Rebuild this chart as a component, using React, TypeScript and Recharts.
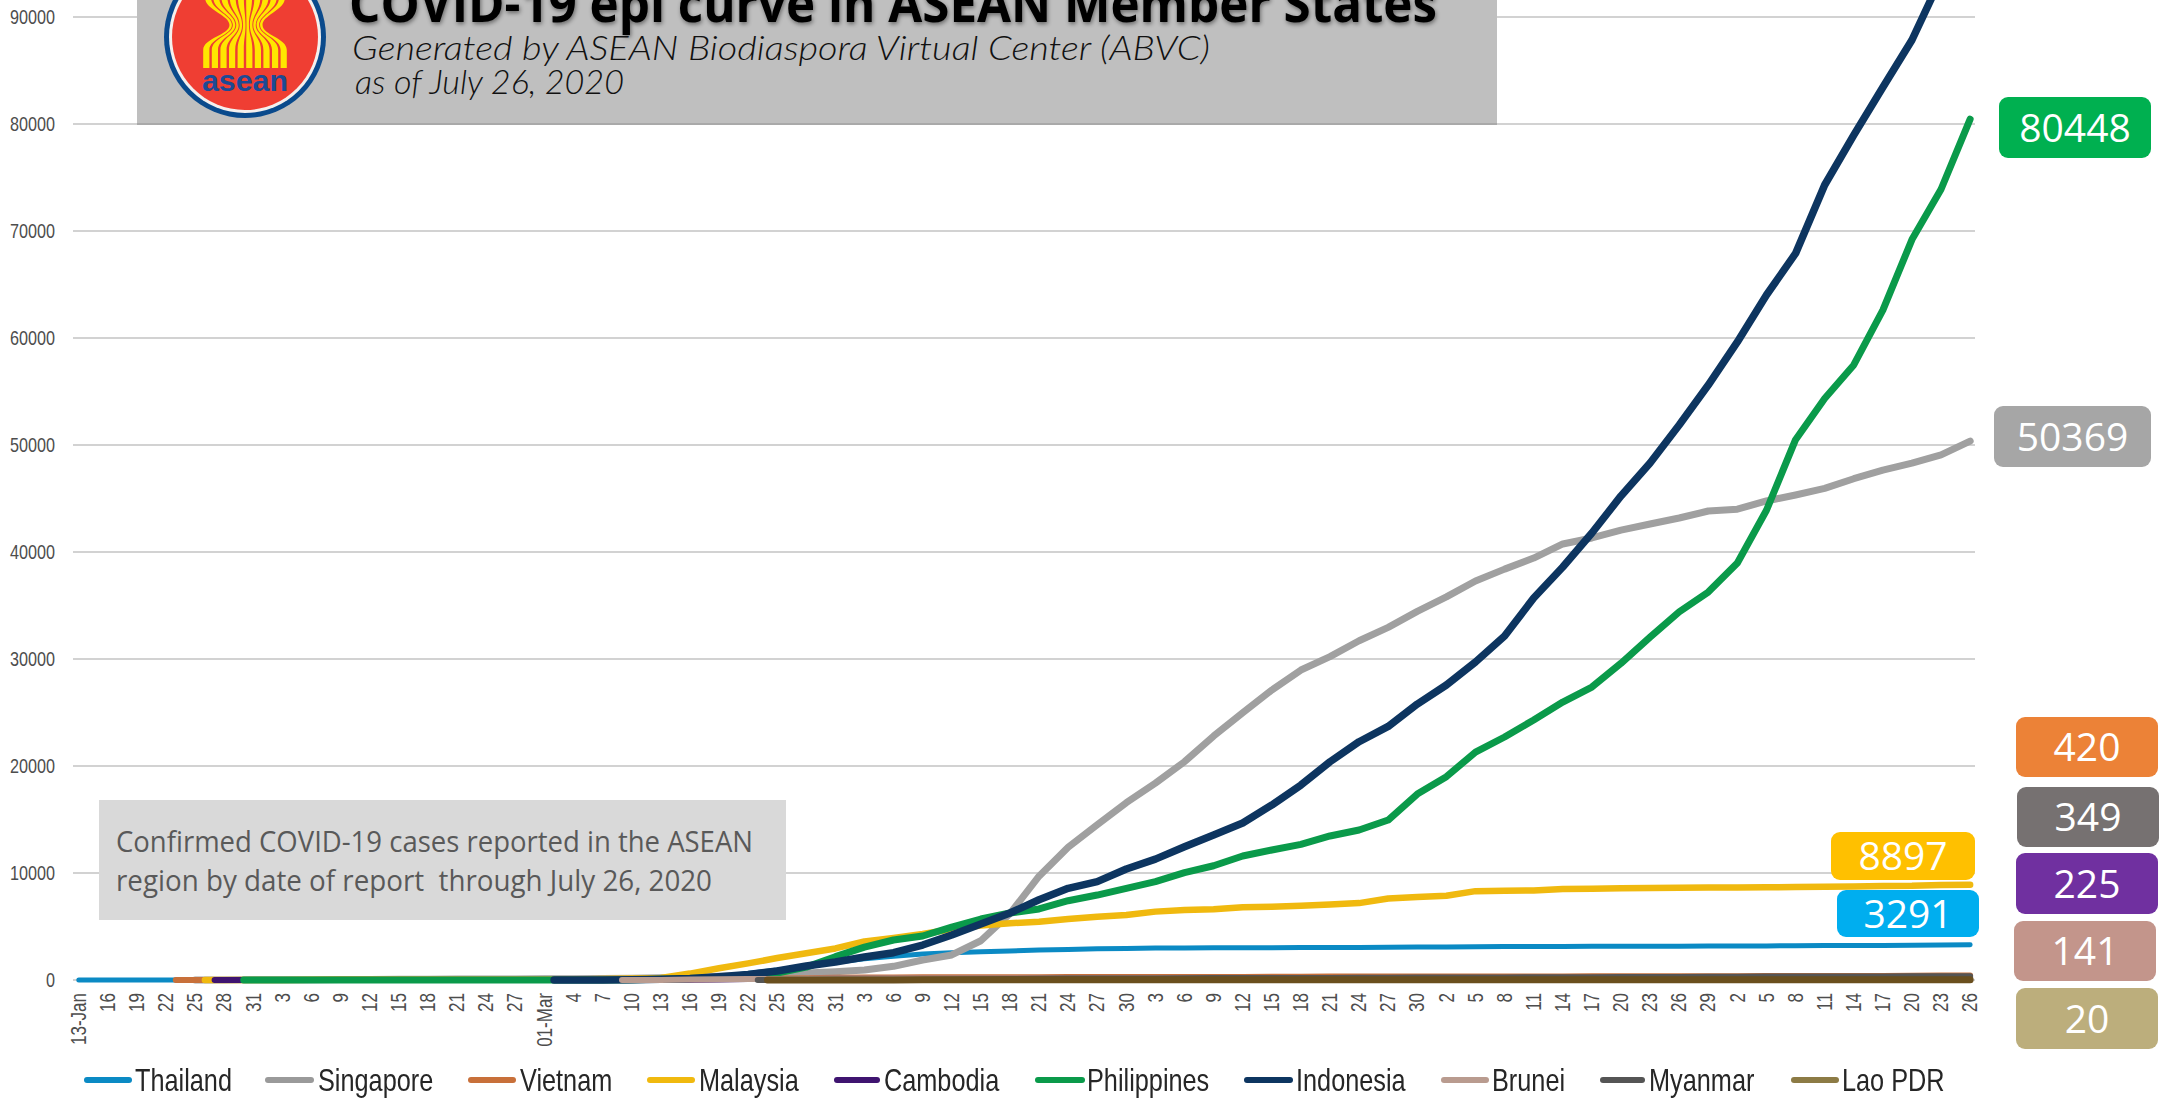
import React from "react";
import { CartesianGrid, Legend, Line, LineChart, XAxis, YAxis } from "recharts";

const tickLabels = [
  "13-Jan", "16", "19", "22", "25", "28", "31", "3", "6", "9",
  "12", "15", "18", "21", "24", "27", "01-Mar", "4", "7", "10",
  "13", "16", "19", "22", "25", "28", "31", "3", "6", "9",
  "12", "15", "18", "21", "24", "27", "30", "3", "6", "9",
  "12", "15", "18", "21", "24", "27", "30", "2", "5", "8",
  "11", "14", "17", "20", "23", "26", "29", "2", "5", "8",
  "11", "14", "17", "20", "23", "26",
];

const yTicks = [0, 10000, 20000, 30000, 40000, 50000, 60000, 70000, 80000, 90000, 100000];

const thailand = [
  1, 1, 2, 4, 7, 14, 19, 25, 25, 32,
  33, 34, 35, 35, 37, 40, 42, 43, 50, 53,
  75, 147, 272, 599, 934, 1245, 1651, 1978, 2220, 2423,
  2551, 2643, 2700, 2811, 2854, 2931, 2954, 2987, 2989, 3004,
  3017, 3025, 3031, 3037, 3045, 3054, 3077, 3083, 3104, 3125,
  3134, 3135, 3148, 3151, 3156, 3162, 3171, 3173, 3185, 3197,
  3217, 3220, 3236, 3250, 3269, 3291,
];
const singapore = [
  null, null, null, null, 3, 7, 16, 18, 28, 43,
  50, 72, 81, 85, 90, 96, 106, 110, 138, 160,
  200, 243, 345, 400, 500, 650, 775, 935, 1280, 1870,
  2340, 3670, 6200, 9700, 12400, 14500, 16570, 18400, 20400, 22800,
  24980, 27100, 28970, 30220, 31710, 32960, 34450, 35800, 37290, 38400,
  39430, 40750, 41310, 42050, 42620, 43180, 43830, 44000, 44770, 45330,
  45950, 46850, 47650, 48300, 49070, 50369,
];
const vietnam = [
  null, null, null, null, 2, 2, 5, 8, 10, 14,
  15, 16, 16, 16, 16, 16, 16, 16, 18, 31,
  47, 61, 85, 113, 148, 169, 204, 233, 245, 255,
  262, 268, 268, 268, 270, 270, 270, 271, 288, 288,
  288, 300, 314, 320, 324, 327, 328, 329, 332, 335,
  335, 336, 342, 349, 352, 355, 355, 355, 369, 372,
  373, 381, 384, 401, 413, 420,
];
const malaysia = [
  null, null, null, null, null, 4, 8, 8, 14, 17,
  18, 19, 22, 22, 22, 23, 29, 36, 83, 129,
  197, 600, 1100, 1550, 2050, 2500, 2950, 3600, 3925, 4300,
  4750, 5100, 5300, 5450, 5700, 5920, 6070, 6390, 6540, 6620,
  6810, 6850, 6940, 7059, 7185, 7619, 7762, 7877, 8303, 8336,
  8369, 8494, 8529, 8572, 8590, 8612, 8634, 8643, 8668, 8683,
  8704, 8734, 8779, 8800, 8887, 8897,
];
const cambodia = [
  null, null, null, null, null, 1, 1, 1, 1, 1,
  1, 1, 1, 1, 1, 1, 1, 1, 1, 2,
  5, 12, 37, 87, 96, 103, 107, 114, 114, 117,
  122, 122, 122, 122, 122, 122, 122, 122, 122, 122,
  122, 122, 122, 122, 124, 125, 125, 125, 126, 126,
  128, 129, 129, 130, 130, 141, 141, 141, 141, 141,
  156, 165, 171, 197, 202, 225,
];
const philippines = [
  null, null, null, null, null, null, 1, 2, 3, 3,
  3, 3, 3, 3, 3, 3, 3, 3, 6, 33,
  64, 142, 217, 380, 636, 1200, 2180, 3070, 3740, 4110,
  4950, 5700, 6260, 6640, 7410, 7940, 8570, 9190, 10030, 10680,
  11590, 12150, 12680, 13460, 14020, 14950, 17380, 19000, 21300, 22710,
  24300, 25980, 27380, 29600, 32050, 34400, 36260, 38970, 43900, 50500,
  54350, 57480, 62600, 69200, 73900, 80448,
];
const indonesia = [
  null, null, null, null, null, null, null, null, null, null,
  null, null, null, null, null, null, null, 2, 4, 27,
  69, 134, 309, 514, 840, 1310, 1680, 2150, 2550, 3270,
  4200, 5230, 6260, 7500, 8570, 9190, 10370, 11300, 12460, 13550,
  14670, 16350, 18220, 20400, 22270, 23700, 25790, 27570, 29720, 32150,
  35700, 38600, 41770, 45240, 48320, 51870, 55600, 59630, 64019, 67900,
  74300, 78970, 83430, 87850, 93657, 98778,
];
const brunei = [
  null, null, null, null, null, null, null, null, null, null,
  null, null, null, null, null, null, null, null, null, 1,
  11, 54, 75, 88, 104, 120, 129, 134, 135, 136,
  136, 136, 137, 138, 138, 138, 138, 138, 138, 141,
  141, 141, 141, 141, 141, 141, 141, 141, 141, 141,
  141, 141, 141, 141, 141, 141, 141, 141, 141, 141,
  141, 141, 141, 141, 141, 141,
];
const myanmar = [
  null, null, null, null, null, null, null, null, null, null,
  null, null, null, null, null, null, null, null, null, null,
  null, null, null, null, 3, 8, 15, 20, 22, 27,
  41, 74, 85, 121, 144, 146, 150, 151, 161, 177,
  180, 182, 187, 193, 199, 206, 224, 233, 236, 244,
  261, 262, 263, 287, 290, 292, 299, 303, 316, 316,
  321, 331, 336, 339, 341, 349,
];
const laoPdr = [
  null, null, null, null, null, null, null, null, null, null,
  null, null, null, null, null, null, null, null, null, null,
  null, null, null, null, 3, 6, 9, 10, 11, 16,
  19, 19, 19, 19, 19, 19, 19, 19, 19, 19,
  19, 19, 19, 19, 19, 19, 19, 19, 19, 19,
  19, 19, 19, 19, 19, 19, 19, 19, 19, 19,
  19, 19, 19, 19, 20, 20,
];

// first report falls between two ticks for these countries (day counted from 13-Jan)
const firstReports: Record<string, [number, number]> = {
  Vietnam: [10, 2],
  Malaysia: [13, 3],
  Cambodia: [14, 1],
  Philippines: [17, 1],
  Indonesia: [49, 2],
  Brunei: [56, 1],
  Myanmar: [70, 2],
  "Lao PDR": [71, 2],
};

const seriesList = [
  { name: "Thailand", values: thailand, color: "#0b8ac4", legendColor: "#0b8ac4", width: 5 },
  { name: "Singapore", values: singapore, color: "#a0a0a0", legendColor: "#9a9a9a", width: 7 },
  { name: "Vietnam", values: vietnam, color: "#c8703a", legendColor: "#c8703a", width: 6 },
  { name: "Malaysia", values: malaysia, color: "#f0b90f", legendColor: "#f0b90f", width: 6.5 },
  { name: "Cambodia", values: cambodia, color: "#3f1470", legendColor: "#3f1470", width: 6 },
  { name: "Philippines", values: philippines, color: "#0a9a4a", legendColor: "#0a9a4a", width: 7 },
  { name: "Indonesia", values: indonesia, color: "#0d3560", legendColor: "#0d3560", width: 7.5 },
  { name: "Brunei", values: brunei, color: "#b99b8f", legendColor: "#b99b8f", width: 6 },
  { name: "Myanmar", values: myanmar, color: "#555555", legendColor: "#555555", width: 6 },
  { name: "Lao PDR", values: laoPdr, color: "#6a4f1e", legendColor: "#8c7b45", width: 7 },
];

const tickDays = tickLabels.map((_, i) => i * 3);

const chartRows = (() => {
  const byDay = new Map<number, Record<string, number | null>>();
  tickDays.forEach((day, i) => {
    const row: Record<string, number | null> = { day };
    seriesList.forEach((s) => (row[s.name] = s.values[i]));
    byDay.set(day, row);
  });
  Object.entries(firstReports).forEach(([name, [day, value]]) => {
    const row = byDay.get(day) || { day };
    row[name] = value;
    byDay.set(day, row);
  });
  return [...byDay.values()].sort((a, b) => (a.day as number) - (b.day as number));
})();

const SANS = '"Liberation Sans", sans-serif';
const LABEL_GREY = "#4d4d4d";

// the source axis text is a condensed face, so it is squeezed to the same width
const YTick = ({ x, y, payload }: any) => (
  <text
    x={x}
    y={y + 7}
    textAnchor="end"
    textLength={String(payload.value).length * 9}
    lengthAdjust="spacingAndGlyphs"
    fontFamily={SANS}
    fontSize={21}
    fill={LABEL_GREY}
  >
    {payload.value}
  </text>
);

const XTick = ({ x, y, payload }: any) => (
  <text
    transform={`translate(${x},${y}) rotate(-90) scale(1,1.25)`}
    textAnchor="end"
    dominantBaseline="central"
    fontFamily={SANS}
    fontSize={17}
    fill={LABEL_GREY}
  >
    {tickLabels[payload.value / 3]}
  </text>
);

// left edge of each legend entry: swatch start, swatch end, text start
const legendSlots = [
  [84, 132, 135],
  [265, 314, 318],
  [468, 516, 520],
  [647, 695, 699],
  [834, 880, 884],
  [1035, 1085, 1087],
  [1244, 1293, 1296],
  [1441, 1489, 1492],
  [1600, 1645, 1649],
  [1791, 1839, 1842],
];

const ChartLegend = () => (
  <div style={{ position: "relative", width: 2164, height: 40 }}>
    {seriesList.map((s, i) => {
      const [x0, x1, tx] = legendSlots[i];
      return (
        <React.Fragment key={s.name}>
          <div
            style={{
              position: "absolute",
              left: x0,
              width: x1 - x0,
              top: 17,
              height: 6,
              borderRadius: 3,
              background: s.legendColor,
            }}
          />
          <div
            style={{
              position: "absolute",
              left: tx,
              top: 0,
              lineHeight: "40px",
              fontFamily: SANS,
              fontSize: 32,
              color: "#262626",
              whiteSpace: "nowrap",
              transform: "scaleX(0.79)",
              transformOrigin: "left center",
            }}
          >
            {s.name}
          </div>
        </React.Fragment>
      );
    })}
  </div>
);

const endBoxes = [
  { text: "80448", x: 1999, y: 97, w: 152, h: 61, fill: "#00b050" },
  { text: "50369", x: 1994, y: 406, w: 157, h: 61, fill: "#a6a6a6" },
  { text: "8897", x: 1831, y: 832, w: 144, h: 48, fill: "#ffc000" },
  { text: "3291", x: 1837, y: 890, w: 142, h: 47, fill: "#00aeef" },
  { text: "420", x: 2016, y: 717, w: 142, h: 60, fill: "#ec8237" },
  { text: "349", x: 2017, y: 787, w: 142, h: 60, fill: "#767171" },
  { text: "225", x: 2016, y: 853, w: 142, h: 61, fill: "#7030a0" },
  { text: "141", x: 2014, y: 921, w: 142, h: 60, fill: "#c3958b" },
  { text: "20", x: 2016, y: 988, w: 142, h: 61, fill: "#bcae7c" },
];

const sheafStalks = [0, 1, 2, 3, 4, 5, 6, 7, 8, 9];

const AseanLogo = () => (
  <g>
    <circle cx={245} cy={37} r={81} fill="#0a4a8c" />
    <circle cx={245} cy={37} r={76} fill="#f4f0ee" />
    <circle cx={245} cy={37} r={73} fill="#ef3e33" />
    {sheafStalks.map((k) => {
      const top = (t: number) => 204 + t * 8.2;
      const mid = (t: number) => 229 + t * 3.4;
      const bot = (t: number) => 202 + t * 8.6;
      const a = k + 0.14;
      const b = k + 0.86;
      return (
        <path
          key={k}
          fill="#ffe600"
          d={`M${top(a)} -2 C${top(a)} 10 ${mid(a)} 15 ${mid(a)} 25 C${mid(a)} 35 ${bot(a)} 38 ${bot(a)} 50 L${bot(a)} 68 L${bot(b)} 68 L${bot(b)} 50 C${bot(b)} 38 ${mid(b)} 35 ${mid(b)} 25 C${mid(b)} 15 ${top(b)} 10 ${top(b)} -2 Z`}
        />
      );
    })}
    <text
      x={245}
      y={91}
      textAnchor="middle"
      textLength={86}
      lengthAdjust="spacingAndGlyphs"
      fontFamily={SANS}
      fontWeight={700}
      fontSize={30}
      fill="#1d4a94"
    >
      asean
    </text>
  </g>
);

const Overlays = () => (
  <svg
    width={2164}
    height={1099}
    style={{ position: "absolute", left: 0, top: 0, pointerEvents: "none" }}
  >
    <rect x={137} y={0} width={1360} height={125} fill="#bfbfbf" />
    <rect x={137} y={123} width={1360} height={2} fill="#a9a9a9" />
    <AseanLogo />
    <text
      x={349}
      y={22}
      textLength={1088}
      lengthAdjust="spacingAndGlyphs"
      fontFamily='"Open Sans", sans-serif'
      fontWeight={700}
      fontSize={52}
      fill="#000"
      style={{ filter: "drop-shadow(1px 2px 2px rgba(0,0,0,0.45))" }}
    >
      COVID-19 epi curve in ASEAN Member States
    </text>
    <text
      x={352}
      y={60}
      textLength={858}
      lengthAdjust="spacingAndGlyphs"
      fontFamily="Lato, sans-serif"
      fontStyle="italic"
      fontWeight={300}
      fontSize={33}
      fill="#111"
    >
      Generated by ASEAN Biodiaspora Virtual Center (ABVC)
    </text>
    <text
      x={355}
      y={94}
      textLength={269}
      lengthAdjust="spacingAndGlyphs"
      fontFamily="Lato, sans-serif"
      fontStyle="italic"
      fontWeight={300}
      fontSize={33}
      fill="#111"
    >
      as of July 26, 2020
    </text>

    <rect x={99} y={800} width={687} height={120} fill="#d9d9d9" />
    <text
      x={116}
      y={852}
      textLength={637}
      lengthAdjust="spacingAndGlyphs"
      fontFamily='"Open Sans", sans-serif'
      fontSize={29}
      fill="#595959"
    >
      Confirmed COVID-19 cases reported in the ASEAN
    </text>
    <text
      x={116}
      y={891}
      textLength={596}
      lengthAdjust="spacingAndGlyphs"
      fontFamily='"Open Sans", sans-serif'
      fontSize={29}
      fill="#595959"
      style={{ whiteSpace: "pre" }}
    >
      region by date of report  through July 26, 2020
    </text>

    {endBoxes.map((b) => (
      <g key={b.text}>
        <rect x={b.x} y={b.y} width={b.w} height={b.h} rx={9} fill={b.fill} />
        <text
          x={b.x + b.w / 2}
          y={b.y + b.h / 2 + 14}
          textAnchor="middle"
          fontFamily='"Open Sans", sans-serif'
          fontSize={39}
          fill="#fff"
        >
          {b.text}
        </text>
      </g>
    ))}
  </svg>
);

export default function App() {
  return (
    <div
      style={{
        position: "absolute",
        left: 0,
        top: 0,
        width: 2164,
        height: 1099,
        overflow: "hidden",
        background: "#fff",
      }}
    >
      {/* the source picture is cropped at the top, so the chart starts above the page */}
      <div style={{ position: "absolute", left: 0, top: -90 }}>
        <LineChart
          width={2164}
          height={1189}
          data={chartRows}
          margin={{ top: 0, right: 189, bottom: 0, left: 0 }}
        >
          <CartesianGrid horizontal vertical={false} stroke="#d2d2d2" strokeWidth={2} />
          <XAxis
            type="number"
            dataKey="day"
            domain={[-0.6, 195.5]}
            ticks={tickDays}
            interval={0}
            height={119}
            tickSize={0}
            tickMargin={13}
            axisLine={false}
            tickLine={false}
            tick={<XTick />}
          />
          <YAxis
            type="number"
            domain={[0, 100000]}
            ticks={yTicks}
            width={73}
            tickSize={0}
            tickMargin={18}
            axisLine={false}
            tickLine={false}
            tick={<YTick />}
          />
          <Legend
            layout="horizontal"
            verticalAlign="middle"
            content={() => <ChartLegend />}
            wrapperStyle={{ left: 0, top: 1150, width: 2164, height: 40 }}
          />
          {seriesList.map((s) => (
            <Line
              key={s.name}
              type="linear"
              dataKey={s.name}
              stroke={s.color}
              strokeWidth={s.width}
              strokeLinecap="round"
              strokeLinejoin="round"
              dot={false}
              activeDot={false}
              connectNulls
              isAnimationActive={false}
            />
          ))}
        </LineChart>
      </div>
      <Overlays />
    </div>
  );
}
